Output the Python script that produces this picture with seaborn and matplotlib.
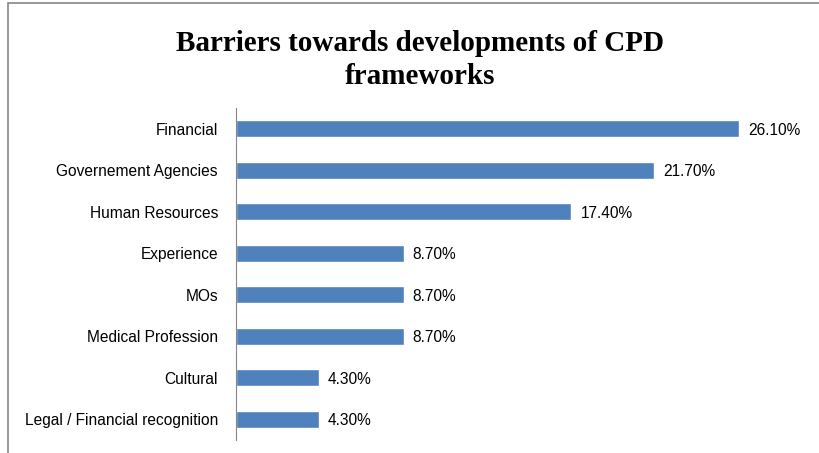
import matplotlib
matplotlib.use("Agg")
import matplotlib.pyplot as plt
import seaborn as sns
import pandas as pd
from matplotlib.patches import Rectangle

categories = ["Financial", "Governement Agencies", "Human Resources", "Experience",
              "MOs", "Medical Profession", "Cultural", "Legal / Financial recognition"]
values = [26.1, 21.7, 17.4, 8.7, 8.7, 8.7, 4.3, 4.3]
value_labels = ["26.10%", "21.70%", "17.40%", "8.70%", "8.70%", "8.70%", "4.30%", "4.30%"]
title = "Barriers towards developments of CPD\nframeworks"

sns.set_theme(style="white")
plt.rcParams['font.family'] = ['Liberation Sans', 'DejaVu Sans']

df = pd.DataFrame({"cat": categories, "val": values})

W, H = 819, 453
fig = plt.figure(figsize=(W / 100, H / 100), dpi=100)
ax = fig.add_axes([236 / W, 1 - 440 / H, (795 - 236) / W, (440 - 108) / H])

sns.barplot(data=df, x="val", y="cat", orient="h", color="#4F81BD",
            saturation=1, width=0.41, ax=ax)

ax.set_xlim(0, 29)
ax.set_ylim(7.5, -0.5)
ax.set_xlabel("")
ax.set_ylabel("")
ax.set_xticks([])
for s in ["top", "right", "bottom"]:
    ax.spines[s].set_visible(False)
ax.spines["left"].set_color("#868686")
ax.spines["left"].set_linewidth(0.8)
ax.tick_params(axis="y", length=0, pad=13, labelsize=11.2, labelcolor="#000000")

for i, (v, lab) in enumerate(zip(values, value_labels)):
    ax.annotate(lab, (v, i), xytext=(6.5, -1), textcoords="offset points",
                va="center", ha="left", fontsize=11.2, color="#000000")

fig.text(420 / W, 1 - 60 / H, title, ha="center", va="center",
         family=["Liberation Serif"], fontweight="bold", fontsize=21,
         linespacing=1.3, color="#000000")

# chart-area frame (left and top edges visible, rest cropped off)
fig.patches.append(Rectangle((8 / W, -0.05), 1.0, 1 - 3 / H + 0.05,
                             transform=fig.transFigure, fill=False,
                             edgecolor="#868686", linewidth=1.2))

fig.savefig("out.png", dpi=100, facecolor="white")
